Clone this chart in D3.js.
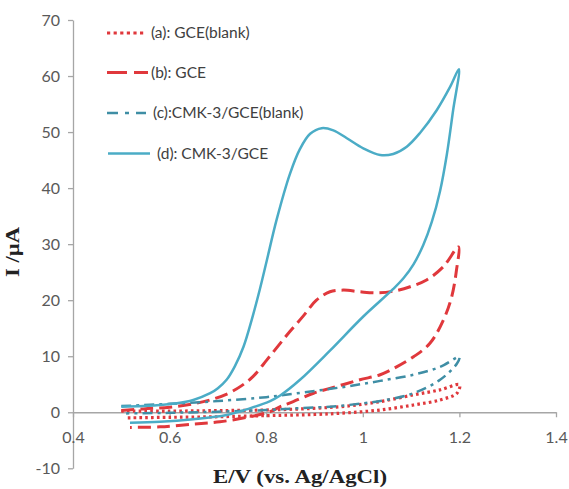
<!DOCTYPE html>
<html><head><meta charset="utf-8">
<script src="https://cdn.jsdelivr.net/npm/d3@7"></script>
<style>body{margin:0;background:#fff}svg{display:block}</style>
</head><body>
<svg id="c" width="569" height="489"></svg>
<script>
// ---- data ----
const xTicks = [0.4, 0.6, 0.8, 1.0, 1.2, 1.4];
const xTickLabels = ["0.4", "0.6", "0.8", "1", "1.2", "1.4"];
const yTicks = [-10, 0, 10, 20, 30, 40, 50, 60, 70];
const yTickLabels = ["-10", "0", "10", "20", "30", "40", "50", "60", "70"];
const seriesNames = ["(a): GCE(blank)", "(b): GCE", "(c):CMK-3/GCE(blank)", "(d): CMK-3/GCE"];

// (a) GCE blank: forward then reverse scan
const eA = [0.50,0.60,0.70,0.80,0.898,0.967,1.036,1.105,1.16,1.20, 1.195,1.16,1.105,1.036,0.967,0.90,0.80,0.70,0.60,0.51];
const iA = [0.2,0.2,0.3,0.4,0.7,1.1,1.9,3.1,4.0,4.9, 3.4,2.2,1.3,0.4,-0.1,-0.4,-0.6,-0.8,-0.9,-1.0];
// (b) GCE
const eB = [0.50,0.546,0.60,0.649,0.684,0.72,0.75,0.773,0.801,0.829,0.849,0.877,0.904,0.932,0.960,0.994,1.029,1.063,1.098,1.132,1.167,1.198,
            1.194,1.184,1.167,1.139,1.105,1.070,1.036,0.994,0.946,0.898,0.856,0.829,0.808,0.766,0.704,0.649,0.580,0.518];
const iB = [0.3,0.6,0.9,1.5,2.2,3.3,4.8,6.4,9.3,12.3,14.4,17.2,20.0,21.5,21.8,21.5,21.3,21.6,22.4,23.6,26.0,29.5,
            25.4,20.6,16.5,12.3,9.9,8.1,6.7,5.8,4.6,3.4,1.9,1.0,0.1,-0.8,-1.7,-2.1,-2.6,-2.7];
// (c) CMK-3/GCE blank
const eC = [0.50,0.60,0.70,0.80,0.829,0.90,0.967,1.036,1.105,1.16,1.20, 1.195,1.16,1.105,1.049,1.001,0.932,0.863,0.80,0.70,0.60,0.51];
const iC = [1.1,1.5,2.0,2.7,3.0,3.8,4.6,5.6,6.7,8.1,9.9, 8.7,5.8,3.4,2.2,1.6,1.0,0.7,0.4,0.1,-0.1,-0.2];
// (d) CMK-3/GCE
const eD = [0.50,0.546,0.615,0.649,0.684,0.70,0.718,0.735,0.753,0.770,0.787,0.801,0.822,0.849,0.870,0.891,0.915,0.939,0.967,1.001,1.036,1.063,1.091,1.118,1.153,1.181,1.199,
            1.187,1.174,1.16,1.143,1.125,1.105,1.085,1.063,1.0,0.932,0.870,0.829,0.808,0.766,0.718,0.649,0.580,0.518];
const iD = [1.0,1.1,1.6,2.2,3.4,4.3,5.8,8.2,11.7,16.5,22.0,27.0,34.5,42.5,47.0,49.7,50.7,50.3,48.9,47.1,45.9,46.1,47.4,49.8,53.9,58.1,61.2,
            53.9,46.0,39.5,34.0,29.8,26.4,24.0,22.0,17.0,11.0,5.8,3.0,2.0,0.7,-0.5,-1.25,-1.7,-1.85];

// ---- drawing ----
const svg = d3.select("#c");
const x = d3.scaleLinear().domain([0.4, 1.4]).range([73, 556]);
const y = d3.scaleLinear().domain([-10, 70]).range([468.3, 20]);
const axisColor = "#a6a6a6";
const tickFont = "Lato, 'Open Sans', sans-serif";

// y axis
const yAxis = svg.append("g").attr("transform", `translate(${x(0.4)},0)`)
  .call(d3.axisLeft(y).tickValues(yTicks).tickFormat((d,i)=>yTickLabels[i]).tickSize(5).tickSizeOuter(0).tickPadding(8));
// x axis at y=0
const xAxis = svg.append("g").attr("transform", `translate(0,${y(0)})`)
  .call(d3.axisBottom(x).tickValues(xTicks).tickFormat((d,i)=>xTickLabels[i]).tickSize(5).tickSizeOuter(0).tickPadding(14));
[yAxis, xAxis].forEach(g => {
  g.selectAll("path.domain").attr("stroke", axisColor).attr("stroke-width", 1.3);
  g.selectAll(".tick line").attr("stroke", axisColor).attr("stroke-width", 1.3);
  g.selectAll(".tick text").attr("fill", "#595959").style("font-family", tickFont).style("font-size", "16px");
});

const styles = [
  {color: "#e0383c", width: 3.2, dash: "2.6,3.2"},
  {color: "#e0383c", width: 3, dash: "13,6"},
  {color: "#3f8ea5", width: 2.5, dash: "10,5,3,5"},
  {color: "#4bacc6", width: 2.5, dash: null}
];
const sets = [[eA,iA],[eB,iB],[eC,iC],[eD,iD]];
const line = d3.line().x(d=>x(d[0])).y(d=>y(d[1])).curve(d3.curveCatmullRom.alpha(0.5));
sets.forEach((s, k) => {
  const pts = s[0].map((e, j) => [e, s[1][j]]);
  const p = svg.append("path").datum(pts).attr("d", line)
    .attr("fill", "none").attr("stroke", styles[k].color).attr("stroke-width", styles[k].width)
    .attr("stroke-linejoin", "round");
  if (styles[k].dash) p.attr("stroke-dasharray", styles[k].dash);
});

// legend
const legY = [33, 72.5, 113, 153.5];
const legX0 = [107, 107, 107, 108], legX1 = [146, 148, 146, 150], legTx = [151, 151, 153, 157];
seriesNames.forEach((n, k) => {
  const l = svg.append("line").attr("x1", legX0[k]).attr("x2", legX1[k]).attr("y1", legY[k]).attr("y2", legY[k])
    .attr("stroke", styles[k].color).attr("stroke-width", styles[k].width);
  if (k === 0) l.attr("stroke-dasharray", "3.2,3.4");
  if (k === 1) l.attr("stroke-dasharray", "20,7");
  if (k === 2) l.attr("stroke-dasharray", "11,7,4,7");
  svg.append("text").attr("x", legTx[k]).attr("y", legY[k]).attr("dy", "0.35em")
    .attr("fill", "#404040").style("font-family", tickFont).style("font-size", "15.5px").text(n);
});

// axis titles
svg.append("text").attr("x", 300).attr("y", 483)
  .attr("text-anchor", "middle")
  .attr("textLength", 174).attr("lengthAdjust", "spacingAndGlyphs")
  .style("font-family", "'Liberation Serif', 'Times New Roman', serif").style("font-weight", "bold").style("font-size", "18px")
  .attr("fill", "#222").text("E/V (vs. Ag/AgCl)");
svg.append("text").attr("transform", "translate(13,252) rotate(-90)").attr("dy", "0.35em").attr("text-anchor", "middle")
  .attr("textLength", 50).attr("lengthAdjust", "spacingAndGlyphs")
  .style("font-family", "'Liberation Serif', 'Times New Roman', serif").style("font-weight", "bold").style("font-size", "18px")
  .attr("fill", "#222").text("I /µA");
</script>
</body></html>
